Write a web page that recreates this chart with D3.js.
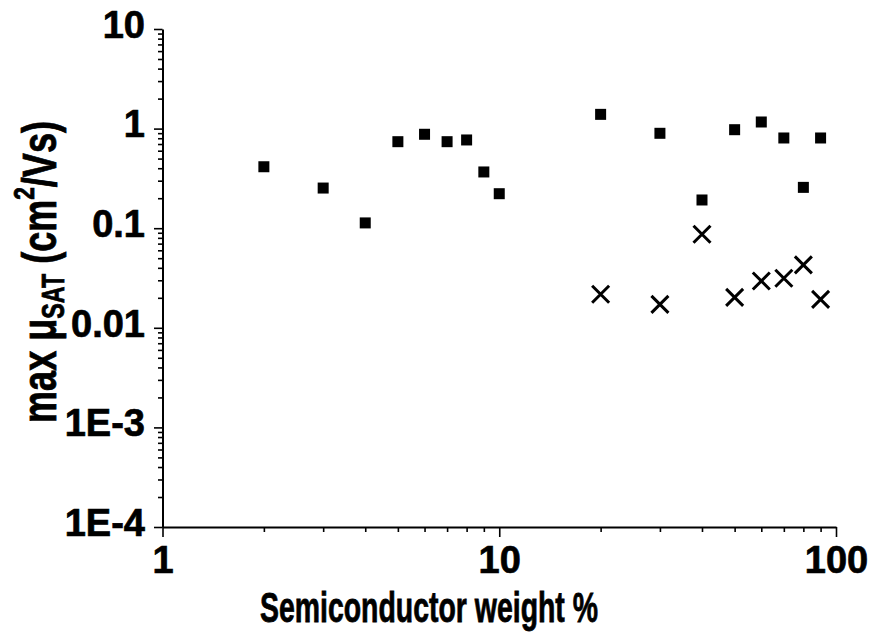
<!DOCTYPE html>
<html>
<head>
<meta charset="utf-8">
<script src="https://cdn.jsdelivr.net/npm/d3@7"></script>
<style>
  html, body { margin: 0; padding: 0; background: #fff; }
  svg { display: block; }
  text { font-family: "Liberation Sans", Arial, sans-serif; font-weight: bold; fill: #000; }
</style>
</head>
<body>
<svg id="chart" width="869" height="632"></svg>
<script>
// Semiconductor weight fraction (%) for each blend
const weightSquares = [2, 3, 4, 5, 6, 7, 8, 9, 10, 20, 30, 40, 50, 60, 70, 80, 90];
// Max saturation mobility, square series (cm^2/Vs)
const mobilitySquares = [0.414, 0.253, 0.113, 0.739, 0.877, 0.739, 0.769, 0.367, 0.222,
                         1.39, 0.897, 0.192, 0.975, 1.165, 0.805, 0.257, 0.805];
// Cross series
const weightCrosses = [20, 30, 40, 50, 60, 70, 80, 90];
const mobilityCrosses = [0.0217, 0.0172, 0.0869, 0.0202, 0.0295, 0.0314, 0.0428, 0.0193];

// Axis ticks and labels
const xMajorTicks = [1, 10, 100];
const xMajorLabels = ["1", "10", "100"];
const yMajorTicks = [10, 1, 0.1, 0.01, 0.001, 0.0001];
const yMajorLabels = ["10", "1", "0.1", "0.01", "1E-3", "1E-4"];

const svg = d3.select("#chart");

const x = d3.scaleLog().domain([1, 100]).range([162.5, 836]);
const y = d3.scaleLog().domain([1e-4, 10]).range([527, 29]);

// minor ticks: 2..9 of every decade
function minorTicks(lo, hi) {
  const out = [];
  for (let e = lo; e < hi; e++) {
    for (let k = 2; k <= 9; k++) out.push(k * Math.pow(10, e));
  }
  return out;
}
const xMinor = minorTicks(0, 2);
const yMinor = minorTicks(-4, 1);

function styleLabels(g) {
  g.selectAll("text")
    .attr("fill", "#000")
    .attr("stroke", "#000")
    .attr("stroke-width", 0.7)
    .style("font-family", "'Liberation Sans', Arial, sans-serif")
    .style("font-weight", "bold")
    .style("font-size", "38px");
}

// ---- X axis ----
const xAxisG = svg.append("g").attr("transform", "translate(0,527)");
xAxisG.append("g")
  .call(d3.axisBottom(x).tickValues(xMinor).tickSize(5).tickSizeOuter(0).tickFormat(""))
  .call(g => g.select(".domain").remove())
  .call(g => g.selectAll("line").attr("stroke", "#000").attr("stroke-width", 1.6));
xAxisG.append("g")
  .call(d3.axisBottom(x).tickValues(xMajorTicks).tickSize(10).tickSizeOuter(0).tickPadding(9)
        .tickFormat((d, i) => xMajorLabels[i]))
  .call(g => g.select(".domain").attr("stroke", "#000").attr("stroke-width", 2))
  .call(g => g.selectAll("line").attr("stroke", "#000").attr("stroke-width", 1.6))
  .call(styleLabels);

// ---- Y axis ----
const yAxisG = svg.append("g").attr("transform", "translate(162.5,0)");
yAxisG.append("g")
  .call(d3.axisLeft(y).tickValues(yMinor).tickSize(4.5).tickSizeOuter(0).tickFormat(""))
  .call(g => g.select(".domain").remove())
  .call(g => g.selectAll("line").attr("stroke", "#000").attr("stroke-width", 1.6));
yAxisG.append("g")
  .call(d3.axisLeft(y).tickValues(yMajorTicks).tickSize(8.5).tickSizeOuter(0).tickPadding(9)
        .tickFormat((d, i) => yMajorLabels[i]))
  .call(g => g.select(".domain").attr("stroke", "#000").attr("stroke-width", 2))
  .call(g => g.selectAll("line").attr("stroke", "#000").attr("stroke-width", 1.6))
  .call(styleLabels)
  .call(g => g.selectAll("text").attr("dy", "0.22em"));

// ---- Data: squares ----
const sq = 11;
svg.append("g").selectAll("rect")
  .data(weightSquares.map((w, i) => ({ w, m: mobilitySquares[i] })))
  .join("rect")
  .attr("x", d => x(d.w) - sq / 2)
  .attr("y", d => y(d.m) - sq / 2)
  .attr("width", sq)
  .attr("height", sq)
  .attr("fill", "#000");

// ---- Data: crosses ----
const cr = 8.5;
svg.append("g").selectAll("path")
  .data(weightCrosses.map((w, i) => ({ w, m: mobilityCrosses[i] })))
  .join("path")
  .attr("transform", d => `translate(${x(d.w)},${y(d.m)})`)
  .attr("d", `M${-cr},${-cr}L${cr},${cr}M${-cr},${cr}L${cr},${-cr}`)
  .attr("stroke", "#000")
  .attr("stroke-width", 3)
  .attr("fill", "none");

// ---- Axis titles ----
svg.append("text")
  .attr("x", 429)
  .attr("y", 622)
  .attr("text-anchor", "middle")
  .attr("textLength", 338)
  .attr("lengthAdjust", "spacingAndGlyphs")
  .attr("stroke", "#000")
  .attr("stroke-width", 0.8)
  .style("font-size", "42px")
  .text("Semiconductor weight %");

const yTitle = svg.append("text")
  .attr("transform", "translate(56,272) rotate(-90)")
  .attr("text-anchor", "middle")
  .attr("textLength", 302)
  .attr("lengthAdjust", "spacingAndGlyphs")
  .attr("stroke", "#000")
  .attr("stroke-width", 0.8)
  .style("font-size", "48px");
yTitle.append("tspan").text("max \u03bc");
yTitle.append("tspan").attr("dy", 8).style("font-size", "31px").text("SAT");
yTitle.append("tspan").attr("dy", -8).text(" (cm");
yTitle.append("tspan").attr("dy", -22).style("font-size", "30px").text("2");
yTitle.append("tspan").attr("dy", 22).text("/Vs)");
</script>
</body>
</html>
